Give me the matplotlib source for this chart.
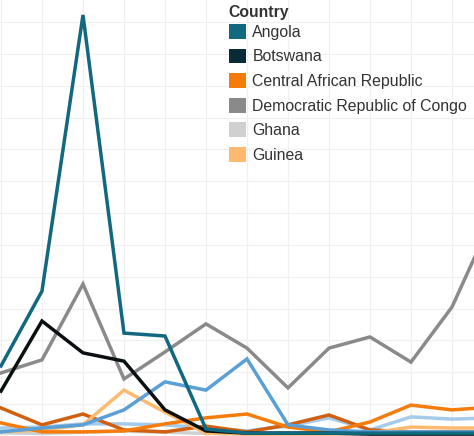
"""Country line chart (cropped Tableau view): one line per country, legend top-centre."""

import matplotlib

matplotlib.use("Agg")
import matplotlib.pyplot as plt
from matplotlib.patches import Patch

plt.rcParams["font.family"] = ["Liberation Sans", "DejaVu Sans"]

TEXT = "#333333"
GRID = "#f0f0f0"

# x positions are the period index; the view is cropped, so no axis labels survive
periods = list(range(13))

angola = [22.0, 45.5, 132.2, 32.3, 31.4, 2.2, 0.9, 0.9, 0.9, 0.9, 0.9, 0.9, 0.9]
botswana = [14.1, 36.1, 26.1, 23.5, 8.2, 1.6, 0.9, 0.9, 0.9, 0.6, 0.6, 0.6, 0.6]
central_african_rep = [4.1, 1.3, 1.3, 1.6, 3.8, 5.7, 6.9, 2.8, 1.3, 4.4, 9.7, 8.2, 9.1]
drc = [19.8, 23.9, 47.7, 17.9, 26.4, 35.2, 27.6, 15.1, 27.6, 31.1, 23.2, 40.5, 68.8]
ghana = [1.0, 0.8, 1.2, 1.5, 1.2, 0.8, 0.6, 0.9, 1.1, 0.8, 1.3, 1.2, 1.2]
guinea = [1.3, 1.9, 3.5, 14.4, 7.5, 0.9, 0.6, 0.6, 0.6, 0.9, 2.8, 2.5, 2.5]
# further countries whose legend rows fall outside the crop
other_blue = [1.3, 2.5, 3.5, 8.2, 17.0, 14.4, 24.2, 3.5, 1.9, 1.3, 1.3, 1.3, 1.3]
other_light_blue = [2.5, 2.8, 3.8, 3.8, 3.5, 2.5, 1.6, 3.1, 5.7, 1.9, 6.0, 5.3, 5.7]
other_dark_orange = [8.8, 3.5, 6.9, 1.9, 1.3, 3.1, 1.3, 3.5, 6.6, 1.9, 1.3, 1.3, 1.3]

legend_names = ["Angola", "Botswana", "Central African Republic",
                "Democratic Republic of Congo", "Ghana", "Guinea"]
legend_colors = ["#12687f", "#0c2b38", "#f57c0b", "#8a8a8a", "#d0d0d0", "#fdb96e"]

# draw order: faint extra series first, Angola last (it sits on top in the view)
series = [
    (ghana, "#d0d0d0"),
    (other_light_blue, "#a5cbeb"),
    (other_dark_orange, "#d0600f"),
    (guinea, "#fdb96e"),
    (central_african_rep, "#f57c0b"),
    (other_blue, "#5a9fd6"),
    (drc, "#8a8a8a"),
    (botswana, "#0a0f12"),
    (angola, "#12687f"),
]

fig = plt.figure(figsize=(4.74, 4.36), dpi=100, facecolor="white")
ax = fig.add_axes([0, 0, 1, 1])
ax.set_facecolor("white")

for values, color in series:
    ax.plot(periods, values, color=color, linewidth=2.5, solid_joinstyle="miter",
            zorder=3)

# ticks first: set_xticks would otherwise widen the view to the off-screen period
ax.set_xticks(periods)
ax.set_yticks(range(0, 140, 10))
ax.set_xlim(-0.024, 11.537)
ax.set_ylim(0, 136.9)
ax.grid(True, color=GRID, linewidth=0.9, zorder=0)
ax.tick_params(length=0, labelbottom=False, labelleft=False)
for side in ax.spines.values():
    side.set_visible(False)

fig.text(228 / 474, 1 - 13 / 436, "Country", fontsize=11.3, fontweight="bold",
         color=TEXT, ha="left", va="center")

handles = [Patch(facecolor=c, edgecolor="none") for c in legend_colors]
leg = ax.legend(
    handles, legend_names, loc="upper left",
    bbox_to_anchor=(229 / 474, 1 - 24 / 436), bbox_transform=fig.transFigure,
    frameon=False, borderpad=0, borderaxespad=0, fontsize=11.4,
    handlelength=1.05, handleheight=1.05, handletextpad=0.42, labelspacing=0.56,
)
for t in leg.get_texts():
    t.set_color(TEXT)

fig.savefig("out.png", dpi=100, facecolor="white")
